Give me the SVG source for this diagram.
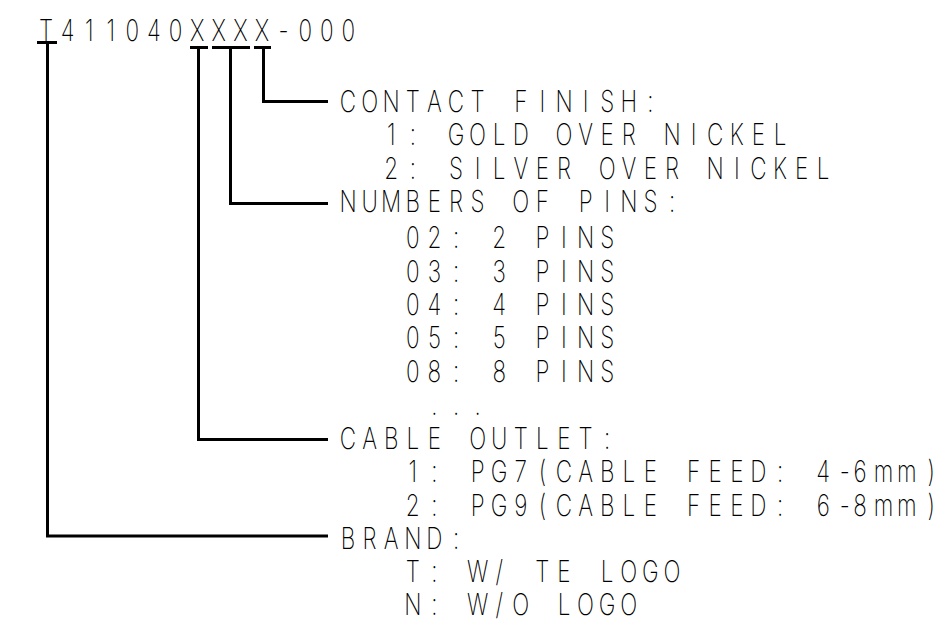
<svg xmlns="http://www.w3.org/2000/svg" width="939" height="624" viewBox="0 0 939 624">
<style>
.t{font-family:Inter,Roboto,"DejaVu Sans",sans-serif;font-size:30px;font-weight:200;fill:#000;text-anchor:middle}
.c{fill:none;stroke:#000;stroke-width:3;stroke-linecap:butt;stroke-linejoin:miter}
</style>
<rect width="939" height="624" fill="#fff"/>
<g id="connectors">
<path class="c" d="M37 42.5H57M47.5 42.5V536H328"/>
<path class="c" d="M190 47.5H208M198.5 47.5V439.5H328"/>
<path class="c" d="M212 47.5H250M230.5 47.5V203.5H328"/>
<path class="c" d="M254 47.5H271M263.5 47.5V101.5H328"/>
</g>
<g id="part-number">
<text class="t" transform="translate(39 40.5) scale(0.75 1)" x="9.33 38.13 66.93 95.73 124.53 153.33 182.13 210.93 239.73 268.53 297.33 326.13 354.93 383.73 412.53">T411040XXXX-000</text>
</g>
<g id="contact-finish">
<text class="t" transform="translate(341 112) scale(0.75 1)" x="9.33 38.13 66.93 95.73 124.53 153.33 182.13 210.93 239.73 268.53 297.33 326.13 354.93 383.73 412.53">CONTACT FINISH:</text>
<text class="t" transform="translate(384.2 145.3) scale(0.75 1)" x="9.33 38.13 66.93 95.73 124.53 153.33 182.13 210.93 239.73 268.53 297.33 326.13 354.93 383.73 412.53 441.33 470.13 498.93 527.73">1: GOLD OVER NICKEL</text>
<text class="t" transform="translate(384.2 178.6) scale(0.75 1)" x="9.33 38.13 66.93 95.73 124.53 153.33 182.13 210.93 239.73 268.53 297.33 326.13 354.93 383.73 412.53 441.33 470.13 498.93 527.73 556.53 585.33">2: SILVER OVER NICKEL</text>
</g>
<g id="number-of-pins">
<text class="t" transform="translate(341 212) scale(0.75 1)" x="9.33 38.13 66.93 95.73 124.53 153.33 182.13 210.93 239.73 268.53 297.33 326.13 354.93 383.73 412.53 441.33">NUMBERS OF PINS:</text>
<text class="t" transform="translate(405.8 248.3) scale(0.75 1)" x="9.33 38.13 66.93 95.73 124.53 153.33 182.13 210.93 239.73 268.53">02: 2 PINS</text>
<text class="t" transform="translate(405.8 281.7) scale(0.75 1)" x="9.33 38.13 66.93 95.73 124.53 153.33 182.13 210.93 239.73 268.53">03: 3 PINS</text>
<text class="t" transform="translate(405.8 315) scale(0.75 1)" x="9.33 38.13 66.93 95.73 124.53 153.33 182.13 210.93 239.73 268.53">04: 4 PINS</text>
<text class="t" transform="translate(405.8 348.3) scale(0.75 1)" x="9.33 38.13 66.93 95.73 124.53 153.33 182.13 210.93 239.73 268.53">05: 5 PINS</text>
<text class="t" transform="translate(405.8 381.7) scale(0.75 1)" x="9.33 38.13 66.93 95.73 124.53 153.33 182.13 210.93 239.73 268.53">08: 8 PINS</text>
<text class="t" transform="translate(427.4 415) scale(0.75 1)" x="9.33 38.13 66.93">...</text>
</g>
<g id="cable-outlet">
<text class="t" transform="translate(341 449) scale(0.75 1)" x="9.33 38.13 66.93 95.73 124.53 153.33 182.13 210.93 239.73 268.53 297.33 326.13 354.93">CABLE OUTLET:</text>
<text class="t" transform="translate(405.8 482) scale(0.75 1)" x="9.33 38.13 66.93 95.73 124.53 153.33 182.13 210.93 239.73 268.53 297.33 326.13 354.93 383.73 412.53 441.33 470.13 498.93 527.73 556.53 585.33 605.6 637 668 700.53">1: PG7(CABLE FEED: 4-6mm)</text>
<text class="t" transform="translate(405.8 516) scale(0.75 1)" x="9.33 38.13 66.93 95.73 124.53 153.33 182.13 210.93 239.73 268.53 297.33 326.13 354.93 383.73 412.53 441.33 470.13 498.93 527.73 556.53 585.33 605.6 637 668 700.53">2: PG9(CABLE FEED: 6-8mm)</text>
</g>
<g id="brand">
<text class="t" transform="translate(341 549) scale(0.75 1)" x="9.33 38.13 66.93 95.73 124.53 153.33">BRAND:</text>
<text class="t" transform="translate(405.8 582) scale(0.75 1)" x="9.33 38.13 66.93 95.73 124.53 153.33 182.13 210.93 239.73 268.53 297.33 326.13 354.93">T: W/ TE LOGO</text>
<text class="t" transform="translate(405.8 615) scale(0.75 1)" x="9.33 38.13 66.93 95.73 124.53 153.33 182.13 210.93 239.73 268.53 297.33">N: W/O LOGO</text>
</g>
</svg>
